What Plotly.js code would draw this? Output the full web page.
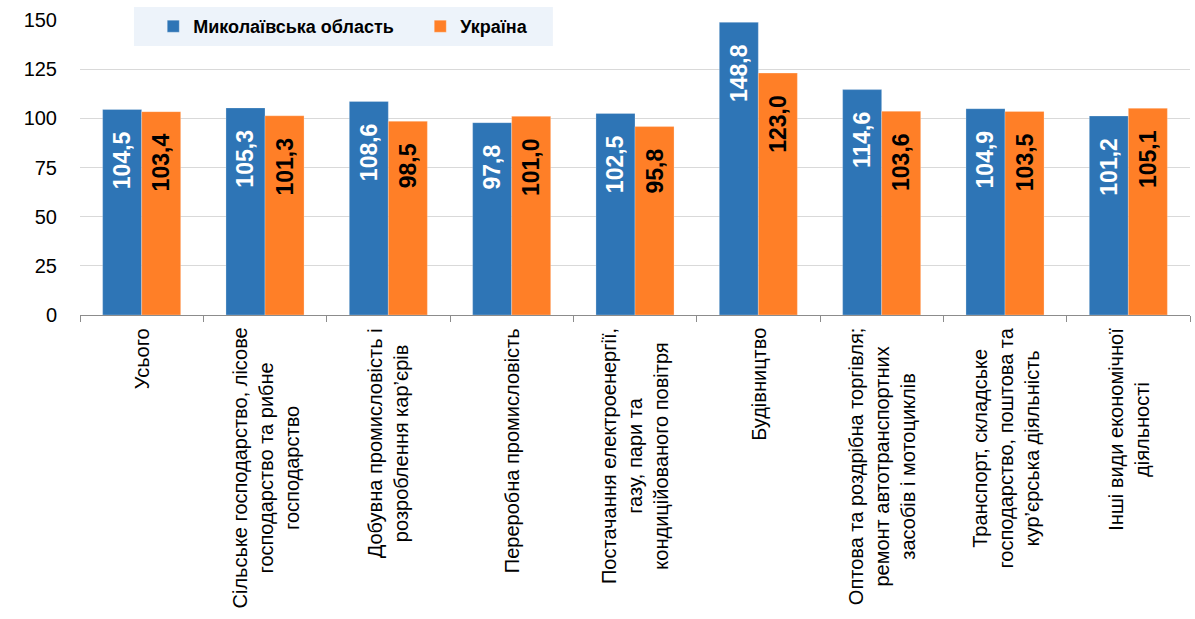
<!DOCTYPE html>
<html>
<head>
<meta charset="utf-8">
<script src="https://cdn.plot.ly/plotly-3.0.1.min.js"></script>
<style>html,body{margin:0;padding:0;background:#fff;}#chart{width:1195px;height:619px;}</style>
</head>
<body>
<div id="chart"></div>
<script>
const categories = [
  "Усього",
  "Сільське господарство, лісове<br>господарство та рибне<br>господарство",
  "Добувна промисловість і<br>розроблення кар’єрів",
  "Переробна промисловість",
  "Постачання електроенергії,<br>газу, пари та<br>кондиційованого повітря",
  "Будівництво",
  "Оптова та роздрібна торгівля;<br>ремонт автотранспортних<br>засобів і мотоциклів",
  "Транспорт, складське<br>господарство, поштова та<br>кур’єрська діяльність",
  "Інші види економічної<br>діяльності"
];
const seriesNames = ["Миколаївська область", "Україна"];
const mykolaiv = [104.5, 105.3, 108.6, 97.8, 102.5, 148.8, 114.6, 104.9, 101.2];
const ukraine  = [103.4, 101.3, 98.5, 101.0, 95.8, 123.0, 103.6, 103.5, 105.1];
const yTicks = [0, 25, 50, 75, 100, 125, 150];

const FONT = "Liberation Sans, Arial, sans-serif";

function barTrace(name, vals, color, txtColor) {
  return {
    type: 'bar', name: name, x: categories, y: vals,
    marker: {color: color, line: {color: 'rgba(255,255,255,0.5)', width: 0.5}},
    texttemplate: '%{y:.1f}\u00a0\u00a0\u00a0',
    textposition: 'inside', insidetextanchor: 'end', textangle: -90,
    constraintext: 'none',
    insidetextfont: {family: FONT, size: 23, color: txtColor, weight: 'bold'},
    hoverinfo: 'y'
  };
}

const data = [
  barTrace(seriesNames[0], mykolaiv, '#2E75B6', '#FFFFFF'),
  barTrace(seriesNames[1], ukraine, '#FF7F27', '#000000')
];

const annotations = categories.map(c => ({
  x: c, xref: 'x', y: 0, yref: 'paper', yanchor: 'top', xanchor: 'center',
  yshift: -11, textangle: -90, align: 'center', showarrow: false,
  text: c, font: {family: FONT, size: 20, color: '#000'}
}));

const layout = {
  width: 1195, height: 619,
  margin: {l: 80, r: 5, t: 20, b: 304},
  paper_bgcolor: '#fff', plot_bgcolor: '#fff',
  separators: ', ',
  barmode: 'group', bargap: 0.367, bargroupgap: 0,
  font: {family: FONT, color: '#000'},
  showlegend: true,
  legend: {
    orientation: 'h', x: 0.066, xanchor: 'left', y: 0.978, yanchor: 'middle',
    bgcolor: 'rgba(0,0,0,0)', font: {family: FONT, size: 18, weight: 'bold', color: '#000'},
    entrywidth: 222, traceorder: 'normal'
  },
  xaxis: {
    type: 'category', showticklabels: false, showgrid: false,
    showline: true, linecolor: '#8c8c8c', linewidth: 1,
    ticks: 'outside', tickson: 'boundaries', ticklen: 6, tickcolor: '#8c8c8c',
    fixedrange: true
  },
  yaxis: {
    range: [0, 150], tickvals: yTicks, ticktext: yTicks.map(String),
    showgrid: true, gridcolor: '#d9d9d9', gridwidth: 1,
    zeroline: false, showline: false, ticks: '',
    ticklabelstandoff: 22,
    tickfont: {family: FONT, size: 20, color: '#000'},
    fixedrange: true
  },
  shapes: [{
    type: 'rect', xref: 'paper', yref: 'paper', layer: 'above',
    x0: 0.0486, x1: 0.426, y0: 0.912, y1: 1.044,
    fillcolor: '#EDF3FA', line: {width: 0}
  }],
  annotations: annotations
};

Plotly.newPlot('chart', data, layout, {displayModeBar: false, staticPlot: true});
</script>
</body>
</html>
